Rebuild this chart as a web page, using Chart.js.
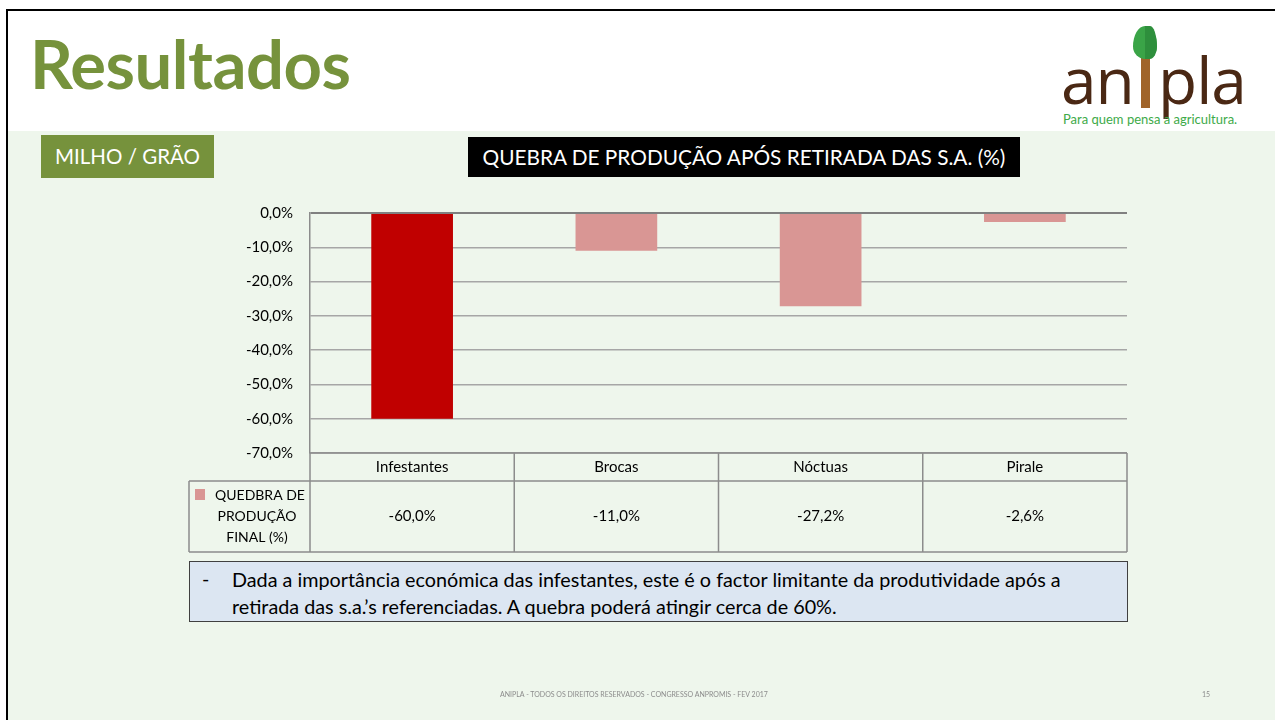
<!DOCTYPE html>
<html>
<head>
<meta charset="utf-8">
<script src="https://cdn.jsdelivr.net/npm/chart.js@4"></script>
<style>
    html, body { margin: 0; padding: 0; }
    body { width: 1275px; height: 720px; position: relative; overflow: hidden; background: #fff; font-family: Lato, "Open Sans", sans-serif; }
    #slide { position: absolute; left: 6px; top: 9px; width: 1275px; height: 720px; border-left: 2px solid #000; border-top: 2px solid #000; background: #fff; }
    #band { position: absolute; left: 8px; top: 131px; right: 0; bottom: 0; background: #eef6ec; }
    #title { position: absolute; left: 30px; top: 23px; font-size: 67px; font-weight: bold; color: #76923c; letter-spacing: -0.5px; }
    #tag { position: absolute; left: 41px; top: 135px; width: 173px; height: 43px; background: #76923c; color: #fff; font-size: 20.5px; line-height: 43px; text-align: center; }
    #ctitle { position: absolute; left: 468px; top: 137px; width: 552px; height: 40px; background: #000; color: #fff; font-size: 20.8px; line-height: 40px; text-align: center; white-space: nowrap; }
    #logo { position: absolute; left: 1060px; top: 20px; width: 200px; height: 110px; }
    #logo .w { position: absolute; top: 16px; font-size: 64px; color: #4a2814; font-family: "Open Sans", sans-serif; white-space: nowrap; letter-spacing: -1px; }
    #logo .leaf { position: absolute; left: 73px; top: 6px; width: 24px; height: 33px; background: #3aa447; border-radius: 50% 50% 50% 50% / 62% 62% 38% 38%; }
    #logo .leaf2 { position: absolute; left: 85px; top: 6px; width: 12px; height: 33px; background: #2e8f3c; border-radius: 0 60% 60% 0 / 0 62% 38% 0; }
    #logo .stem { position: absolute; left: 81px; top: 38px; width: 9px; height: 50px; background: #a0642a; }
    #logo .slogan { position: absolute; left: 3px; top: 91px; font-size: 13px; color: #3daa48; white-space: nowrap; }
    #note { position: absolute; left: 189px; top: 561px; width: 937px; height: 59px; background: #dce6f2; border: 1px solid #404040; font-size: 19.8px; color: #000; font-family: Lato, sans-serif; }
    #note .dash { position: absolute; left: 12px; top: 4px; }
    #note .txt { position: absolute; left: 42px; top: 4px; white-space: nowrap; line-height: 27px; }
    #foot { position: absolute; left: 500px; top: 690px; font-size: 7px; color: #8c8c8c; }
    #pnum { position: absolute; left: 1202px; top: 690px; font-size: 7px; color: #8c8c8c; }
    #cv { position: absolute; left: 0; top: 0; }
</style>
</head>
<body>
<div id="slide"></div>
<div id="band"></div>
<div id="title">Resultados</div>
<div id="logo">
    <div class="w" style="left:1px">an</div>
    <div class="w" style="left:98px">pla</div>
    <div class="stem"></div>
    <div class="leaf"></div>
    <div class="leaf2"></div>
    <div class="slogan">Para quem pensa a agricultura.</div>
</div>
<div id="tag">MILHO / GRÃO</div>
<div id="ctitle">QUEBRA DE PRODUÇÃO APÓS RETIRADA DAS S.A. (%)</div>
<canvas id="cv" width="1275" height="720"></canvas>
<div id="note">
    <span class="dash">-</span>
    <div class="txt">Dada a importância económica das infestantes, este é o factor limitante da produtividade após a<br>retirada das s.a.’s referenciadas. A quebra poderá atingir cerca de 60%.</div>
</div>
<div id="foot">ANIPLA - TODOS OS DIREITOS RESERVADOS - CONGRESSO ANPROMIS - FEV 2017</div>
<div id="pnum">15</div>

<script>
var categories = ['Infestantes', 'Brocas', 'Nóctuas', 'Pirale'];
var quebra = [-60.0, -11.0, -27.2, -2.6];
var seriesName = ['QUEDBRA DE', 'PRODUÇÃO', 'FINAL (%)'];
var barColors = ['#c00000', '#d99694', '#d99694', '#d99694'];

function pct(v) {
    return v.toFixed(1).replace('.', ',') + '%';
}

// data table under the plot, placed from the x scale
var tablePlugin = {
    id: 'dataTable',
    afterDraw: function (chart) {
        var ctx = chart.ctx;
        var area = chart.chartArea;
        var xs = chart.scales.x;
        var step = area.width / categories.length;
        var r0 = area.bottom, r1 = r0 + 28, r2 = r1 + 71;
        var legLeft = 189;
        ctx.save();
        ctx.strokeStyle = '#8c8c8c';
        ctx.lineWidth = 1.5;
        ctx.beginPath();
        ctx.moveTo(area.left, r0); ctx.lineTo(area.right, r0);
        ctx.moveTo(legLeft, r1); ctx.lineTo(area.right, r1);
        ctx.moveTo(legLeft, r2); ctx.lineTo(area.right, r2);
        ctx.moveTo(legLeft, r1); ctx.lineTo(legLeft, r2);
        for (var i = 0; i <= categories.length; i++) {
            var bx = area.left + i * step;
            ctx.moveTo(bx, r0); ctx.lineTo(bx, r2);
        }
        ctx.stroke();

        ctx.fillStyle = '#000';
        ctx.font = '15px Lato, sans-serif';
        ctx.textAlign = 'center';
        ctx.textBaseline = 'middle';
        categories.forEach(function (c, i) {
            var cx = xs.getPixelForValue(i);
            ctx.fillText(c, cx, (r0 + r1) / 2);
            ctx.fillText(pct(quebra[i]), cx, (r1 + r2) / 2);
        });

        ctx.fillStyle = barColors[1];
        ctx.fillRect(legLeft + 6, r1 + 8, 10, 11);
        ctx.fillStyle = '#000';
        ctx.font = '14px Lato, sans-serif';
        seriesName.forEach(function (s, i) {
            ctx.fillText(s, i === 0 ? 260 : 257, r1 + 14 + i * 21);
        });
        ctx.restore();
    }
};

new Chart(document.getElementById('cv'), {
    type: 'bar',
    data: {
        labels: categories,
        datasets: [{
            label: seriesName.join(' '),
            data: quebra,
            backgroundColor: barColors,
            borderWidth: 0,
            categoryPercentage: 1,
            barPercentage: 0.4
        }]
    },
    options: {
        responsive: false,
        animation: false,
        layout: { padding: { left: 180, right: 148, top: 213, bottom: 267 } },
        plugins: { legend: { display: false }, tooltip: { enabled: false } },
        scales: {
            x: { display: false },
            y: {
                min: -70,
                max: 0,
                afterFit: function (s) { s.width = 130; },
                ticks: {
                    stepSize: 10,
                    padding: 17,
                    color: '#000',
                    font: { family: 'Lato, sans-serif', size: 15 },
                    callback: function (v) { return pct(v); }
                },
                grid: {
                    drawTicks: false,
                    color: function (c) { return c.tick && c.tick.value === 0 ? '#808080' : '#a6a6a6'; },
                    lineWidth: function (c) { return c.tick && c.tick.value === 0 ? 2 : 1.5; }
                },
                border: { display: true, color: '#8c8c8c', width: 1.5 }
            }
        }
    },
    plugins: [tablePlugin]
});
</script>
</body>
</html>
